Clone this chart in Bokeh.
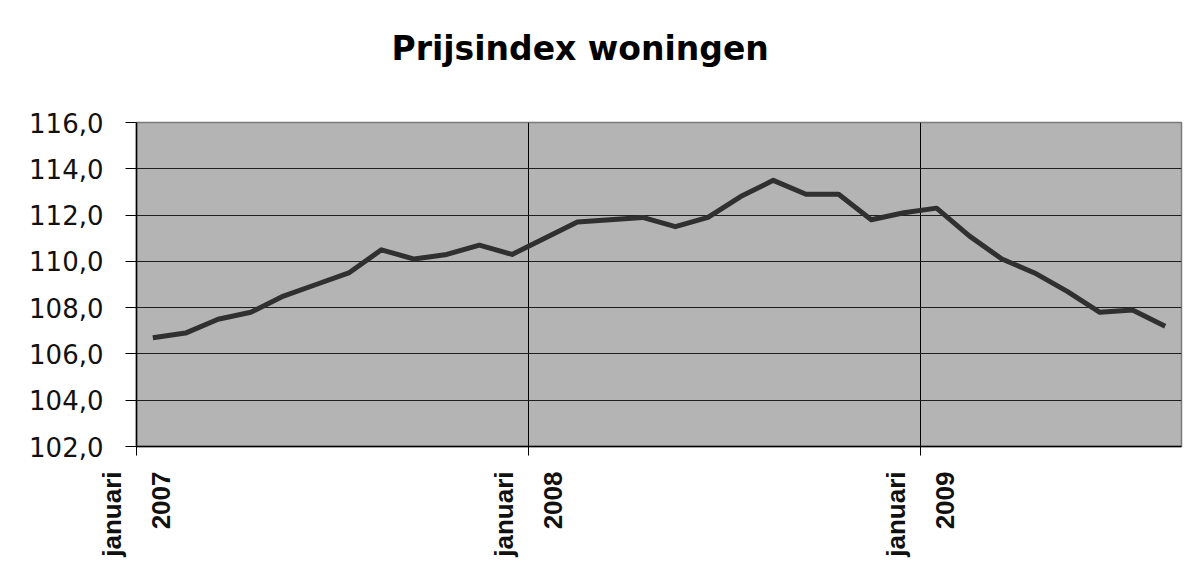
import math
from bokeh.plotting import figure
from bokeh.models import FixedTicker, ColumnDataSource, Range1d, Title
from bokeh.embed import file_html
from bokeh.resources import INLINE

# ---- data ----
months = [
    "2007-01", "2007-02", "2007-03", "2007-04", "2007-05", "2007-06",
    "2007-07", "2007-08", "2007-09", "2007-10", "2007-11", "2007-12",
    "2008-01", "2008-02", "2008-03", "2008-04", "2008-05", "2008-06",
    "2008-07", "2008-08", "2008-09", "2008-10", "2008-11", "2008-12",
    "2009-01", "2009-02", "2009-03", "2009-04", "2009-05", "2009-06",
    "2009-07", "2009-08",
]
index_values = [
    106.7, 106.9, 107.5, 107.8, 108.5, 109.0, 109.5, 110.5, 110.1, 110.3, 110.7, 110.3,
    111.0, 111.7, 111.8, 111.9, 111.5, 111.9, 112.8, 113.5, 112.9, 112.9, 111.8, 112.1,
    112.3, 111.1, 110.1, 109.5, 108.7, 107.8, 107.9, 107.2,
]
x_tick_positions = [0, 12, 24]
x_tick_labels = ["januari\n2007", "januari\n2008", "januari\n2009"]
y_ticks = [102, 104, 106, 108, 110, 112, 114, 116]
y_tick_labels = ["102,0", "104,0", "106,0", "108,0", "110,0", "112,0", "114,0", "116,0"]
title_text = "Prijsindex woningen"

xs = [i + 0.5 for i in range(len(months))]
src = ColumnDataSource(dict(x=xs, y=index_values, month=months))

p = figure(
    width=1183, height=559,
    x_range=Range1d(0, len(months)), y_range=Range1d(y_ticks[0], y_ticks[-1]),
    output_backend="svg", toolbar_location=None, title=None,
    min_border_left=136, min_border_right=2, min_border_top=122, min_border_bottom=113,
)
p.background_fill_color = "#b4b4b4"
p.border_fill_color = "#ffffff"
p.outline_line_color = "#7a7a7a"
p.outline_line_width = 1.5

p.line("x", "y", source=src, line_color="#303030", line_width=5, line_join="round")

# y axis
p.yaxis.ticker = FixedTicker(ticks=y_ticks)
p.yaxis.major_label_overrides = {t: l for t, l in zip(y_ticks, y_tick_labels)}
p.yaxis.major_label_text_font = "DejaVu Sans"
p.yaxis.major_label_text_font_size = "26px"
p.yaxis.major_label_text_color = "#111111"
p.yaxis.major_label_standoff = 22
p.yaxis.major_tick_out = 11
p.yaxis.major_tick_in = 0
p.yaxis.minor_tick_line_color = None
p.yaxis.axis_line_color = "#000000"
p.yaxis.axis_line_width = 1.5
p.yaxis.major_tick_line_color = "#000000"

# x axis
p.xaxis.ticker = FixedTicker(ticks=x_tick_positions)
p.xaxis.major_label_overrides = {t: l for t, l in zip(x_tick_positions, x_tick_labels)}
p.xaxis.major_label_orientation = math.pi / 2
p.xaxis.major_label_text_font = "Liberation Sans"
p.xaxis.major_label_text_font_style = "bold"
p.xaxis.major_label_text_font_size = "26px"
p.xaxis.major_label_text_line_height = 1.63
p.xaxis.major_label_text_color = "#111111"
p.xaxis.major_label_standoff = 16
p.xaxis.major_tick_out = 9
p.xaxis.major_tick_in = 0
p.xaxis.minor_tick_line_color = None
p.xaxis.axis_line_color = "#000000"
p.xaxis.axis_line_width = 1.5
p.xaxis.major_tick_line_color = "#000000"

# grids
p.ygrid.ticker = FixedTicker(ticks=y_ticks[1:-1])
p.ygrid.grid_line_color = "#1e1e1e"
p.ygrid.grid_line_width = 1
p.xgrid.ticker = FixedTicker(ticks=x_tick_positions[1:])
p.xgrid.grid_line_color = "#000000"
p.xgrid.grid_line_width = 1

# spacer between title and plot area, then the title itself
p.add_layout(Title(text=" ", text_font_size="34px"), "above")
p.add_layout(Title(
    text=title_text, align="left", offset=255,
    text_font="DejaVu Sans", text_font_style="bold", text_font_size="33px",
    text_color="#000000",
), "above")

open("out.html", "w").write(file_html(p, INLINE))
